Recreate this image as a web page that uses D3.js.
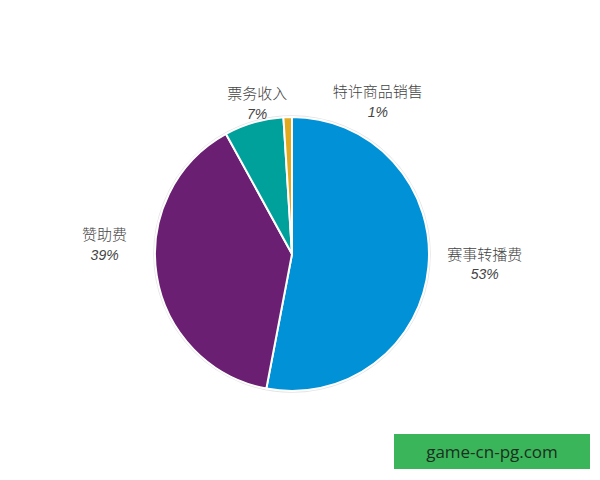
<!DOCTYPE html>
<html><head><meta charset="utf-8">
<script src="https://cdn.jsdelivr.net/npm/d3@7"></script>
<style>body{margin:0;background:#fff;} svg{display:block;}</style>
</head><body>
<script>
const categories = ["赛事转播费", "赞助费", "票务收入", "特许商品销售"];
const values = [53, 39, 7, 1];
const percentLabels = ["53%", "39%", "7%", "1%"];
const colors = ["#0091D6", "#6A1F72", "#00A19B", "#E2A91E"];
// label nudges relative to the label arc centroid (layout, not data)
const labelNudge = [[29, -5], [-25, -35], [11, 8], [91, 12]];

const W = 600, H = 480, cx = 292, cy = 254, R = 137;
const svg = d3.select("body").append("svg").attr("width", W).attr("height", H);
const g = svg.append("g").attr("transform", `translate(${cx},${cy})`);

const pie = d3.pie().sort(null).value(d => d)(values);
const arc = d3.arc().innerRadius(0).outerRadius(R);
const labelArc = d3.arc().innerRadius(R * 1.2).outerRadius(R * 1.2);

g.append("circle").attr("r", R + 1).attr("fill", "none").attr("stroke", "#e4e4e4").attr("stroke-width", 1.5);
g.selectAll("path.slice").data(pie).join("path")
  .attr("class", "slice")
  .attr("d", arc)
  .attr("fill", (d, i) => colors[i])
  .attr("stroke", "#fff").attr("stroke-width", 2).attr("stroke-linejoin", "round");

const lab = g.selectAll("g.lab").data(pie).join("g").attr("class", "lab")
  .attr("transform", (d, i) => {
    const c = labelArc.centroid(d);
    return `translate(${c[0] + labelNudge[i][0]},${c[1] + labelNudge[i][1]})`;
  });
lab.append("text").attr("text-anchor", "middle").attr("y", -10).attr("dy", "0.35em")
  .attr("font-family", "'Noto Sans CJK SC', sans-serif").attr("font-weight", 300).attr("font-size", 15).attr("fill", "#444")
  .text((d, i) => categories[i]);
lab.append("text").attr("text-anchor", "middle").attr("y", 10).attr("dy", "0.35em")
  .attr("font-family", "'Liberation Sans', sans-serif").attr("font-style", "italic").attr("font-size", 14).attr("fill", "#444")
  .text((d, i) => percentLabels[i]);

// watermark
svg.append("rect").attr("x", 394).attr("y", 434).attr("width", 196).attr("height", 35).attr("fill", "#3BB55A");
svg.append("text").attr("x", 492).attr("y", 452).attr("dy", "0.35em").attr("text-anchor", "middle")
  .attr("font-family", "'Open Sans', 'Noto Sans', sans-serif").attr("font-size", 17).attr("fill", "#1a3020")
  .text("game-cn-pg.com");
</script>
</body></html>
